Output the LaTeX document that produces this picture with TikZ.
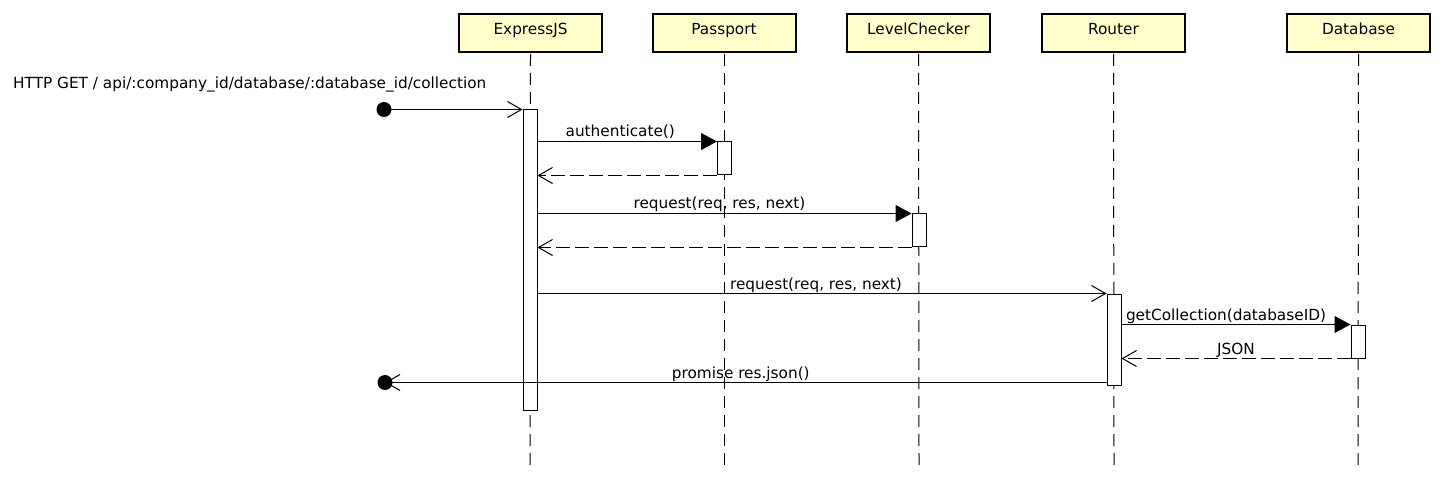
\documentclass[tikz,border=0pt]{standalone}
\usepackage{fontspec}
\setmainfont{DejaVu Sans}
\usetikzlibrary{arrows.meta}
\definecolor{headfill}{HTML}{FFFFCC}
\begin{document}
\begin{tikzpicture}[x=1pt,y=-1pt,
  every node/.style={font=\fontsize{15.3}{18}\selectfont},
  head/.style={draw,line width=2pt,fill=headfill,minimum width=143pt,minimum height=38pt,inner sep=0pt,text height=12pt,text depth=8pt},
  lifeline/.style={line width=1pt,dash pattern=on 12pt off 7pt},
  act/.style={draw,line width=1pt,fill=white,minimum width=14pt,inner sep=0pt,anchor=north},
  dot/.style={circle,fill=black,draw=none,minimum size=15pt,inner sep=0pt},
  call/.style={line width=1pt,-{Triangle[length=16pt,width=17pt]}},
  async/.style={line width=1pt,-{Straight Barb[length=14pt,width=16pt,line width=1pt]}},
  ret/.style={line width=1pt,dash pattern=on 14pt off 5pt,-{Straight Barb[length=14pt,width=16pt,line width=1pt]}},
  lbl/.style={midway,anchor=base,yshift=4.5pt,inner sep=0pt}
]
\useasboundingbox (0,0) rectangle (1445,478);
% heads
\node[head] (hE) at (530.5,33) {ExpressJS};
\node[head] (hP) at (724,33) {Passport};
\node[head] (hL) at (918.5,33) {LevelChecker};
\node[head] (hR) at (1113.5,33) {Router};
\node[head] (hD) at (1358.5,33) {Database};
% lifeline ends
\coordinate (eE) at (530,465);
\coordinate (eP) at (724,465);
\coordinate (eL) at (919,465);
\coordinate (eR) at (1114,465);
\coordinate (eD) at (1358,465);
\draw[lifeline] (hE.south) ++(0,1) -- (eE);
\draw[lifeline] (hP.south) ++(0,1) -- (eP);
\draw[lifeline] (hL.south) ++(0,1) -- (eL);
\draw[lifeline] (hR.south) ++(0,1) -- (eR);
\draw[lifeline] (hD.south) ++(0,1) -- (eD);
% activations
\node[act,minimum height=300pt] (aE) at (530,109.5) {};
\node[act,minimum height=33pt] (aP) at (724.5,141.5) {};
\node[act,minimum height=33pt] (aL) at (919,213.5) {};
\node[act,minimum height=91pt] (aR) at (1114,293.5) {};
\node[act,minimum height=33pt] (aD) at (1358,324.5) {};
% found message
\node[dot] (d1) at (384,109.5) {};
\node[anchor=base west,inner sep=0pt] (l0) at (13,88.5) {HTTP GET / api/:company\_id/database/:database\_id/collection};
\draw[async] (d1.center) -- (aE.north west);
% messages
\draw[call] (aE.east |- aP.north) -- (aP.north west) node[lbl,xshift=-7pt] (l1) {authenticate()};
\draw[ret] (aP.south west) -- (aE.east |- aP.south);
\draw[call] (aE.east |- aL.north) -- (aL.north west) node[lbl,xshift=-5pt] (l2) {request(req, res, next)};
\draw[ret] (aL.south west) -- (aE.east |- aL.south);
\draw[async] (aE.east |- aR.north) -- (aR.north west) node[lbl,xshift=-6pt] (l3) {request(req, res, next)};
\draw[call] (aR.east |- aD.north) -- (aD.north west) node[lbl,xshift=-10pt] (l4) {getCollection(databaseID)};
\draw[ret] (aD.south west) -- (aR.east |- aD.south) node[lbl] (l5) {JSON};
% lost/return to caller
\node[dot] (d2) at (385,382.5) {};
\draw[async] (aR.west |- d2) -- (d2.center) node[lbl,xshift=-5pt] (l6) {promise res.json()};
\end{tikzpicture}
\end{document}
